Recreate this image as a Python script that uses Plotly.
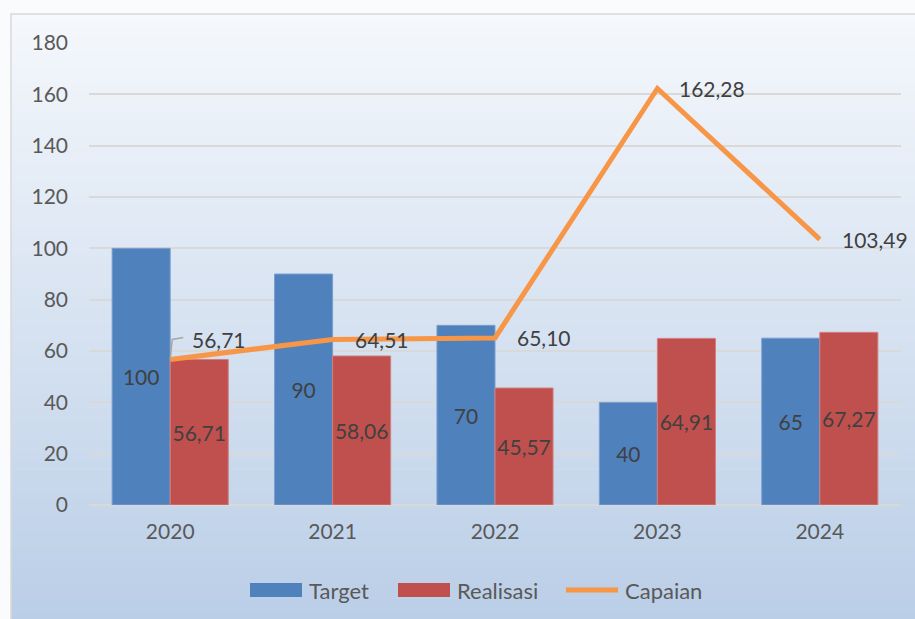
import plotly.graph_objects as go

years = ["2020", "2021", "2022", "2023", "2024"]
target = [100, 90, 70, 40, 65]
realisasi = [56.71, 58.06, 45.57, 64.91, 67.27]
capaian = [56.71, 64.51, 65.10, 162.28, 103.49]
y_ticks = [0, 20, 40, 60, 80, 100, 120, 140, 160, 180]

def fmt(v):
    return f"{v:.2f}".replace(".", ",") if isinstance(v, float) else str(v)

FONT = "Lato, Carlito, 'Open Sans', sans-serif"
C_TARGET, C_REAL, C_CAP = "#4f81bd", "#c0504d", "#f79646"
LBL = dict(family=FONT, size=21, color="#404040")
TICK = dict(family=FONT, size=21, color="#595959")

W, H = 915, 619
PLOT_L, PLOT_R, PLOT_T, PLOT_B = 89, 901, 43, 505
ML, MR, MT, MB = PLOT_L, W - PLOT_R, PLOT_T, H - PLOT_B
PW, PH = PLOT_R - PLOT_L, PLOT_B - PLOT_T

def px2paper_x(px):
    return (px - PLOT_L) / PW

def px2paper_y(py):
    return (PLOT_B - py) / PH

fig = go.Figure()

fig.add_trace(go.Bar(
    name="Target", x=years, y=target,
    text=[fmt(v) for v in target],
    textposition="inside", insidetextanchor="middle", constraintext="none", textangle=0,
    textfont=LBL,
    marker=dict(color=C_TARGET, line=dict(color="#7a9fd0", width=1)),
))
fig.add_trace(go.Bar(
    name="Realisasi", x=years, y=realisasi,
    text=[fmt(v) for v in realisasi],
    textposition="inside", insidetextanchor="middle", constraintext="none", textangle=0,
    textfont=LBL,
    marker=dict(color=C_REAL, line=dict(color="#d37f7d", width=1)),
))
fig.add_trace(go.Scatter(
    name="Capaian", x=years, y=capaian, mode="lines",
    line=dict(color=C_CAP, width=5),
))

# line labels (category index positions)
for i, v in enumerate(capaian):
    if i == 0:
        fig.add_annotation(x=i, y=v, xref="x", yref="y", text=fmt(v), showarrow=False,
                           xanchor="left", yanchor="middle", xshift=20, yshift=20, font=LBL)
        fig.add_shape(type="path", xref="x", yref="y", xsizemode="pixel", ysizemode="pixel",
                      xanchor=i, yanchor=v, path="M0,0 L2,20 L13,22",
                      line=dict(color="#a6a6a6", width=1.5))
    else:
        fig.add_annotation(x=i, y=v, xref="x", yref="y", text=fmt(v), showarrow=False,
                           xanchor="left", yanchor="middle", xshift=20, font=LBL)

# gradient background (chart area)
x0p, x1p = px2paper_x(11), px2paper_x(W + 2)
top_px, bot_px = 14, H + 2
n = 80
c_top = (245, 248, 252)
c_bot = (186, 206, 231)
for k in range(n):
    t = (k + 0.5) / n
    c = tuple(round(c_top[j] + (c_bot[j] - c_top[j]) * t) for j in range(3))
    ya = top_px + (bot_px - top_px) * k / n
    yb = top_px + (bot_px - top_px) * (k + 1) / n + 0.6
    fig.add_shape(type="rect", xref="paper", yref="paper", layer="below",
                  x0=x0p, x1=x1p, y0=px2paper_y(ya), y1=px2paper_y(yb),
                  fillcolor=f"rgb{c}", line=dict(width=0))
fig.add_shape(type="path", xref="paper", yref="paper", layer="below",
              path=f"M{x0p},{px2paper_y(bot_px)} L{x0p},{px2paper_y(top_px)} L{x1p},{px2paper_y(top_px)}",
              line=dict(color="#d9d9d9", width=1.5))

# legend (drawn to match the swatch shapes of the original)
LEG_Y = px2paper_y(590)
legend_items = [("Target", C_TARGET, "rect", 250), ("Realisasi", C_REAL, "rect", 398),
                ("Capaian", C_CAP, "line", 564)]
for name, col, kind, sx in legend_items:
    if kind == "rect":
        fig.add_shape(type="rect", xref="paper", yref="paper",
                      x0=px2paper_x(sx), x1=px2paper_x(sx + 52),
                      y0=px2paper_y(597), y1=px2paper_y(583),
                      fillcolor=col, line=dict(width=0))
        tx = sx + 57
    else:
        fig.add_shape(type="line", xref="paper", yref="paper",
                      x0=px2paper_x(sx + 2), x1=px2paper_x(sx + 54),
                      y0=LEG_Y, y1=LEG_Y, line=dict(color=col, width=5))
        tx = sx + 59
    fig.add_annotation(x=px2paper_x(tx), y=LEG_Y, xref="paper", yref="paper", text=name,
                       showarrow=False, xanchor="left", yanchor="middle",
                       font=dict(family=FONT, size=22, color="#595959"))

fig.update_layout(
    width=W, height=H,
    margin=dict(l=ML, r=MR, t=MT, b=MB, pad=0, autoexpand=False),
    paper_bgcolor="#fafbfd", plot_bgcolor="rgba(0,0,0,0)",
    barmode="group", bargap=0.285, bargroupgap=0,
    font=dict(family=FONT, size=21, color="#595959"),
    showlegend=False,
    xaxis=dict(type="category", range=[-0.5, 4.5], autorange=False,
               showgrid=False, showline=False, ticks="", ticklabelstandoff=12,
               automargin=False, tickfont=TICK),
    yaxis=dict(range=[0, 180], autorange=False, tickvals=y_ticks, showgrid=True,
               gridcolor="#d9d9d9", gridwidth=1.5,
               zeroline=True, zerolinecolor="#d9d9d9", zerolinewidth=1.5, showline=False,
               ticks="", ticklabelstandoff=20, automargin=False, tickfont=TICK),
)

fig.write_html("out.html", config={"displayModeBar": False},
               post_script="document.body.style.margin='0';document.body.style.overflow='hidden';")
